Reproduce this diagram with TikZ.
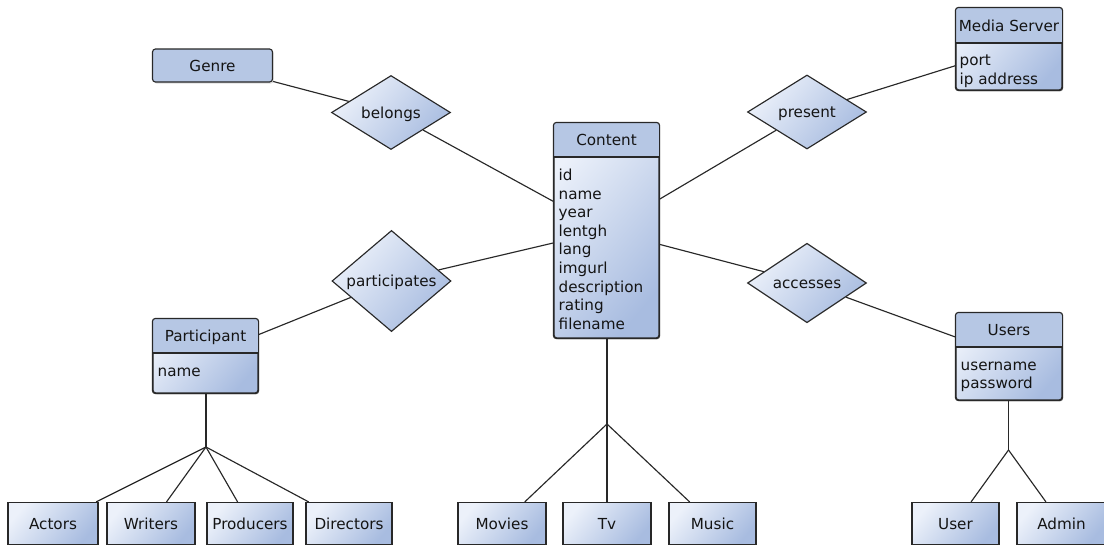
\documentclass[tikz,border=0pt]{standalone}
\usepackage{fontspec}
\setmainfont{DejaVu Sans}
\usetikzlibrary{shapes.geometric,shadows,backgrounds}

\definecolor{headblue}{RGB}{182,199,228}
\definecolor{lightblue}{RGB}{236,241,250}
\definecolor{darkblue}{RGB}{168,188,224}
\definecolor{linegray}{RGB}{40,40,40}
\definecolor{txt}{RGB}{20,20,20}

\tikzset{
  every node/.style={font=\fontsize{15.2}{18.6}\selectfont, text=txt},
  boxline/.style={draw=linegray, line width=1.15pt},
  softshadow/.style={drop shadow={opacity=0.28, shadow xshift=1.2pt, shadow yshift=-1.6pt}},
  bodyshade/.style={top color=lightblue, bottom color=darkblue, shading angle=50},
  entitybox/.style={rectangle, boxline, rounded corners=3pt, bodyshade, softshadow, inner sep=0pt},
  leafbox/.style={rectangle, boxline, bodyshade, inner sep=0pt, text height=11pt, text depth=0pt},
  genrebox/.style={rectangle, boxline, rounded corners=3pt, fill=headblue, softshadow,
    inner sep=0pt, text height=11pt, text depth=0pt},
  relation/.style={diamond, boxline, bodyshade, inner sep=0pt, minimum width=119pt,
    minimum height=74pt, text height=11pt, text depth=0pt},
  title/.style={inner sep=0pt, anchor=base},
  attr/.style={inner sep=0pt, anchor=base west},
  link/.style={draw=linegray, line width=1.15pt},
}

% entity with a header band: name, left, top, right, divider, bottom, title
\newcommand{\erentity}[7]{%
  \node[entitybox, minimum width={(#4)-(#2)}, minimum height={(#6)-(#3)}]
    (#1) at ({((#2)+(#4))/2},{((#3)+(#6))/2}) {};
  \begin{scope}
    \clip[rounded corners=3pt] (#1.north west) rectangle (#1.south east);
    \fill[headblue] (#1.north west) rectangle (#4,#5);
  \end{scope}
  \draw[boxline] (#2,#5) -- (#4,#5);
  \draw[boxline, rounded corners=3pt] (#1.north west) rectangle (#1.south east);
  \node[title] (#1-title) at ({((#2)+(#4))/2},{((#3)+(#5))/2+5.5}) {#7};
}

\begin{document}
\begin{tikzpicture}[x=1pt, y=-1pt]
  \useasboundingbox (0,0) rectangle (1104,544);
  \clip (0,0) rectangle (1104,544);

  % entities
  \erentity{content}{554}{123}{659}{157}{338}{Content}
  \foreach \t [count=\i] in {id,name,year,lentgh,lang,imgurl,description,rating,filename}
    \node[attr] (content-a\i) at (558.5,{180.5+(\i-1)*18.6}) {\t};

  \erentity{server}{956}{8}{1062}{43}{90}{Media Server}
  \foreach \t [count=\i] in {port,ip address}
    \node[attr] (server-a\i) at (959.5,{65.5+(\i-1)*18.6}) {\t};

  \erentity{participant}{153}{319}{258}{353}{393}{Participant}
  \node[attr] (participant-a1) at (157.5,376) {name};

  \erentity{users}{956}{313}{1062}{347}{400}{Users}
  \foreach \t [count=\i] in {username,password}
    \node[attr] (users-a\i) at (960.5,{370+(\i-1)*18.6}) {\t};

  \node[genrebox, minimum width=120pt, minimum height=33pt] (genre) at (212.5,65.5) {Genre};

  % relationships
  \node[relation] (belongs) at (391,112.5) {belongs};
  \node[relation] (present) at (807,112) {present};
  \node[relation] (participates) at (391.5,281) {participates};
  \node[relation] (accesses) at (807,283) {accesses};

  % specialisations
  \foreach \n/\l/\r/\t in {actors/8/98/Actors, writers/107/195/Writers,
      producers/207/293/Producers, directors/306/392/Directors,
      movies/458/546/Movies, tv/563/651/Tv, music/669/756/Music,
      user/912/999/User, admin/1017/1106/Admin}
    \node[leafbox, minimum width={\r-\l}, minimum height=42pt] (\n) at ({(\l+\r)/2},523.5) {\t};

  \coordinate (pj) at (206,447);
  \coordinate (cj) at (607,424);
  \coordinate (uj) at (1008.5,450);

  \begin{scope}[on background layer]
    \draw[link] (genre) -- (belongs);
    \draw[link] (belongs) -- (content);
    \draw[link] (content) -- (present);
    \draw[link] (present) -- (server);
    \draw[link] (participant) -- (participates);
    \draw[link] (participates) -- (content);
    \draw[link] (content) -- (accesses);
    \draw[link] (accesses) -- (users);
  \end{scope}

  \draw[link] (participant.south -| pj) -- (pj);
  \foreach \c in {actors,writers,producers,directors} \draw[link] (pj) -- (\c);
  \draw[link] (content.south -| cj) -- (cj);
  \foreach \c in {movies,tv,music} \draw[link] (cj) -- (\c);
  \draw[link] (users.south -| uj) -- (uj);
  \foreach \c in {user,admin} \draw[link] (uj) -- (\c);
\end{tikzpicture}
\end{document}
